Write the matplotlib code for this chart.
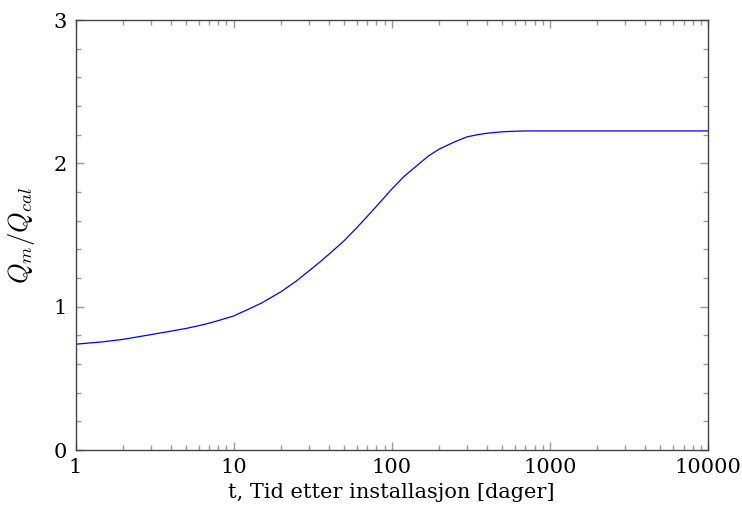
import numpy as np
import matplotlib
matplotlib.use("Agg")
import matplotlib.pyplot as plt
import matplotlib.ticker as mtick

# values (log t axis)
t_days = [1, 1.5, 2, 3, 4, 5, 6, 7, 8, 10, 12, 15, 20, 25, 30, 35, 40, 50,
          60, 70, 80, 100, 120, 150, 170, 200, 250, 300, 350, 400, 500, 600,
          700, 1000, 10000]
q_ratio = [0.738, 0.755, 0.772, 0.805, 0.829, 0.848, 0.867, 0.885, 0.903,
           0.935, 0.975, 1.025, 1.105, 1.18, 1.25, 1.31, 1.365, 1.46, 1.55,
           1.63, 1.70, 1.82, 1.91, 2.0, 2.05, 2.10, 2.15, 2.185, 2.20, 2.21,
           2.22, 2.224, 2.226, 2.226, 2.226]

x_ticks = [1, 10, 100, 1000, 10000]
x_ticklabels = ["1", "10", "100", "1000", "10000"]
y_ticks = [0, 1, 2, 3]

plt.rcParams['font.family'] = ['DejaVu Serif']
plt.rcParams['mathtext.fontset'] = 'cm'

fig = plt.figure(figsize=(7.42, 5.15), dpi=100)
ax = fig.add_axes([75.5/742, 1 - 450/515, (708 - 75.5)/742, (450 - 20)/515])

ax.plot(t_days, q_ratio, color='blue', lw=0.9)

ax.set_xscale('log')
ax.set_xlim(1, 10000)
ax.set_ylim(0, 3)
ax.set_xticks(x_ticks)
ax.set_xticklabels(x_ticklabels)
ax.xaxis.set_minor_locator(mtick.LogLocator(base=10, subs=np.arange(2, 10)))
ax.xaxis.set_minor_formatter(mtick.NullFormatter())
ax.set_yticks(y_ticks)
ax.yaxis.set_minor_locator(mtick.MultipleLocator(0.2))

for s in ax.spines.values():
    s.set_color('#444444')
    s.set_linewidth(1.0)
ax.tick_params(which='both', direction='in', top=True, right=True,
               color='#999999', width=1.0, labelsize=15, labelcolor='black')
ax.tick_params(which='major', length=5.5, pad=6)
ax.tick_params(which='minor', length=3.5)

ax.set_xlabel("t, Tid etter installasjon [dager]", fontsize=15, labelpad=4)
ax.set_ylabel(r"$Q_m/Q_{cal}$", fontsize=19, labelpad=12)

fig.savefig("out.png", dpi=100)
